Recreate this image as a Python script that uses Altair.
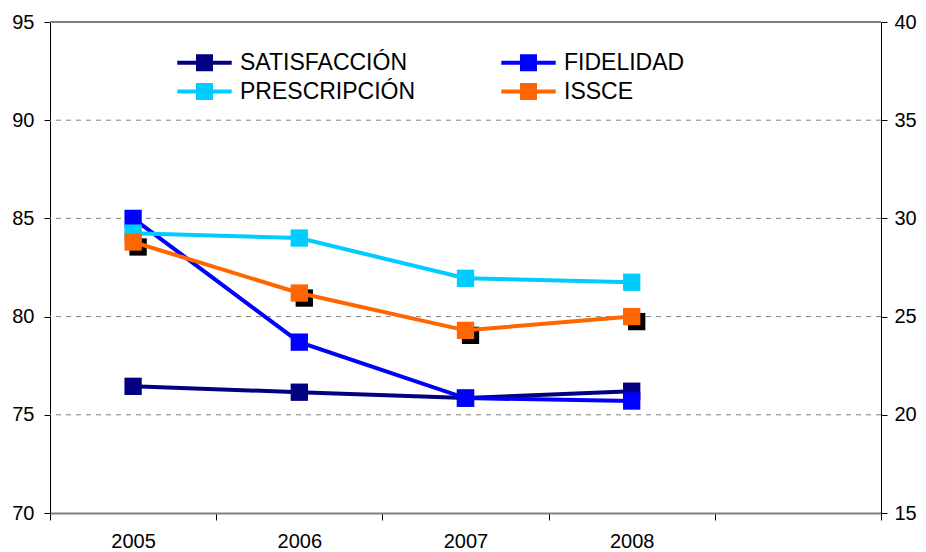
import altair as alt
import pandas as pd

FONT = "Liberation Sans"

years = ["2005", "2006", "2007", "2008"]
x_domain = years + [" "]
series = ["SATISFACCIÓN", "FIDELIDAD", "PRESCRIPCIÓN", "ISSCE"]
colors = ["#000080", "#0000FF", "#00CCFF", "#FF6600"]
legend_order = ["SATISFACCIÓN", "PRESCRIPCIÓN", "FIDELIDAD", "ISSCE"]
legend_colors = ["#000080", "#00CCFF", "#0000FF", "#FF6600"]
satisfaccion = [76.45, 76.15, 75.85, 76.2]
fidelidad = [85.0, 78.7, 75.85, 75.7]
prescripcion = [84.25, 84.0, 81.95, 81.75]
issce = [83.8, 81.2, 79.3, 80.0]
left_ticks = [70, 75, 80, 85, 90, 95]
right_ticks = [15, 20, 25, 30, 35, 40]
grid_values = [75, 80, 85, 90]
top_value = [95]

rows = []
for name, vals in zip(series, [satisfaccion, fidelidad, prescripcion, issce]):
    for yr, v in zip(years, vals):
        rows.append({"year": yr, "series": name, "value": v})
df = pd.DataFrame(rows)
df_issce = df[df["series"] == "ISSCE"]

x_enc = alt.X(
    "year:N",
    scale=alt.Scale(type="band", domain=x_domain, paddingInner=0, paddingOuter=0),
    axis=alt.Axis(
        title=None, tickBand="extent", labelFontSize=20, labelFont=FONT,
        labelColor="black", tickSize=7, tickColor="#000000",
        domainColor="#808080", domainWidth=2, labelPadding=11,
        labelAngle=0, grid=False,
    ),
)
y_scale = alt.Scale(domain=[70, 95], nice=False, zero=False)
y_axis = alt.Axis(
    values=left_ticks, title=None, labelFontSize=20, labelFont=FONT,
    labelColor="black", domainColor="black", tickColor="black",
    tickSize=6, labelPadding=10, grid=False, orient="left",
)

grid = alt.Chart(pd.DataFrame({"value": grid_values})).mark_rule(
    color="#808080", strokeDash=[5, 5], strokeWidth=1
).encode(y=alt.Y("value:Q", scale=y_scale, axis=y_axis))

top = alt.Chart(pd.DataFrame({"value": top_value})).mark_rule(
    color="#808080", strokeWidth=2
).encode(y=alt.Y("value:Q", scale=y_scale, axis=None))

shadow = alt.Chart(df_issce).mark_point(
    shape="square", filled=True, size=300, opacity=1, color="black",
    xOffset=5, yOffset=5,
).encode(x=x_enc, y=alt.Y("value:Q", scale=y_scale, axis=None))

line_layers = []
for name, col in zip(series, colors):
    line_layers.append(
        alt.Chart(df[df["series"] == name]).mark_line(strokeWidth=4, color=col)
        .encode(x=x_enc, y=alt.Y("value:Q", scale=y_scale, axis=None))
    )

legend_path = "M-3.2,-0.24H3.2V0.24H-3.2Z M-1,-1H1V1H-1Z"

points = alt.Chart(df).mark_point(
    shape="square", filled=True, size=300, opacity=1
).encode(
    x=x_enc,
    y=alt.Y("value:Q", scale=y_scale, axis=None),
    color=alt.Color(
        "series:N", scale=alt.Scale(domain=legend_order, range=legend_colors),
        legend=alt.Legend(
            title=None, orient="none", legendX=143, legendY=29, columns=2,
            symbolType=legend_path, symbolSize=289, symbolStrokeWidth=0,
            symbolOpacity=1,
            labelFontSize=23, labelFont=FONT, labelColor="black",
            labelFontWeight="normal",
            labelOffset=24, columnPadding=85, rowPadding=5,
            labelLimit=400, padding=0,
        ),
    ),
)

right = alt.Chart(pd.DataFrame({"r": right_ticks})).mark_point(opacity=0).encode(
    y=alt.Y(
        "r:Q", scale=alt.Scale(domain=[15, 40], nice=False, zero=False),
        axis=alt.Axis(
            orient="right", values=right_ticks, title=None, labelFontSize=20,
            labelFont=FONT, labelColor="black", domainColor="black",
            tickColor="black", tickSize=6, labelPadding=7, grid=False,
        ),
    )
)

chart = alt.layer(grid, top, shadow, *line_layers, points, right).resolve_scale(
    y="independent"
).properties(
    width=831, height=491,
    autosize=alt.AutoSizeParams(type="none"),
    padding={"left": 42, "top": 14, "right": 37, "bottom": 40},
).configure_view(stroke=None).configure(font=FONT)

chart.save("out.html", embed_options={"renderer": "svg", "actions": False})
